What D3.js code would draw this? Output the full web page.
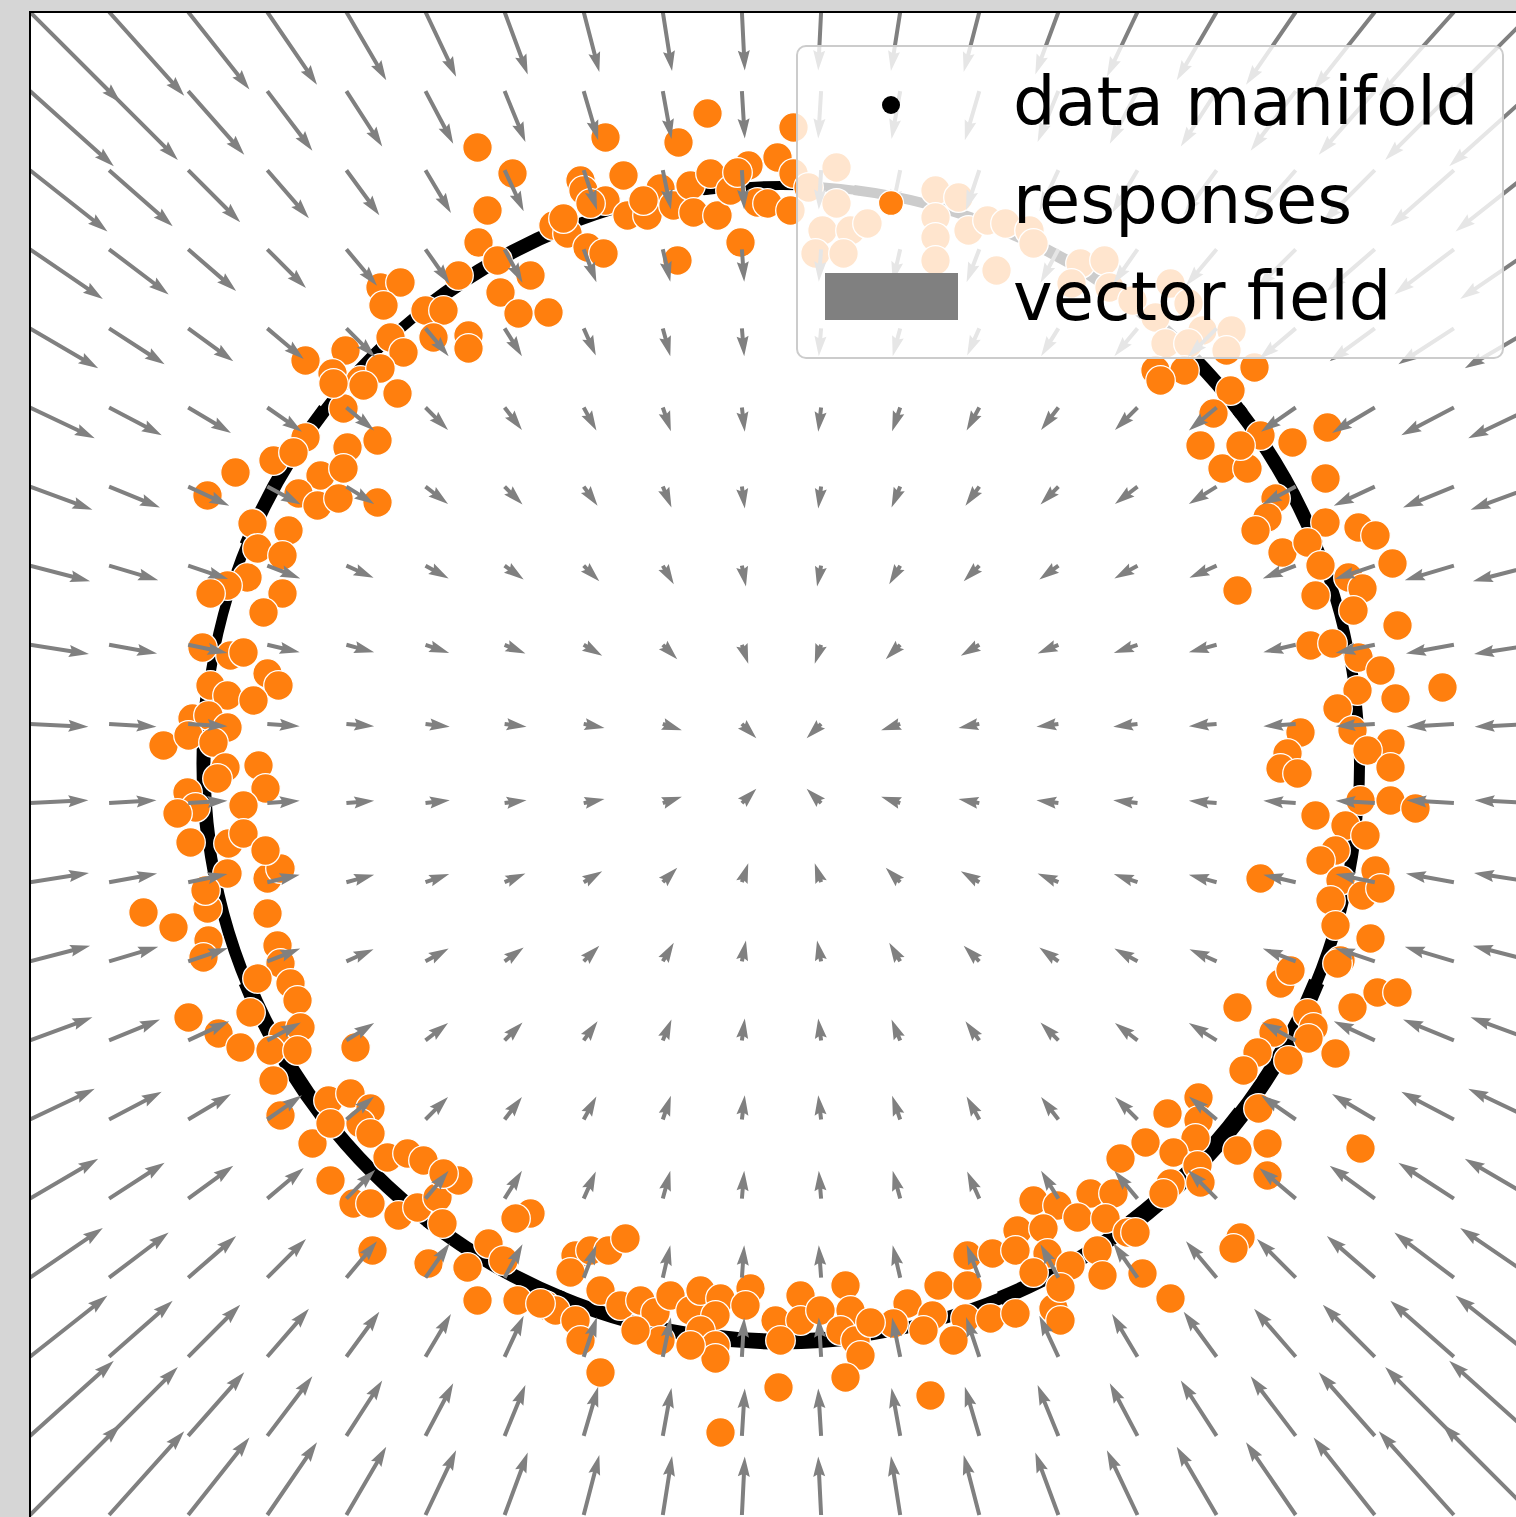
<!DOCTYPE html>
<html lang="en">
<head>
<meta charset="utf-8">
<title>Responses around the data manifold</title>
<script src="https://d3js.org/d3.v7.min.js"></script>
<style>
  body { margin: 0; background: #d6d6d6; }
  svg { display: block; }
</style>
</head>
<body>
<div id="viz"></div>
<script>

// ---- data (units: offset from the circle centre, y up) ----

// data manifold: ring radius and band thickness around it
var manifoldRadius = 578;
var manifoldAngles = [0, 15, 30, 45, 60, 75, 90, 105, 120, 135, 150, 165, 180, 195, 210, 225, 240, 255, 270, 285, 300, 315, 330, 345];
var manifoldWidths = [11, 11, 14, 14, 12, 10, 9, 8, 14, 10, 14, 10, 14, 12, 16, 14, 14, 14, 16, 12, 15, 18, 16, 12];

// responses (orange points)
var responses = [
  // top arc
  [-304,616],[-176,626],[-103,621],[-74,650],[12,636],[-269,590],[-294,553],[-303,521],[-323,488],[-284,503],
  [-251,488],[-281,471],[-263,450],[-233,451],[-401,476],[-381,481],[-398,458],[-356,453],[-338,453],[-391,426],
  [-348,426],[-313,428],[-313,415],[-378,411],[-436,413],[-476,403],[-449,390],[-421,383],[-401,395],[-384,370],
  [-438,355],[-228,538],[-214,530],[-201,583],[-198,573],[-176,563],[-158,588],[-154,548],[-134,548],[-121,575],
  [-108,558],[-91,578],[-88,551],[-71,590],[-64,548],[-51,573],[-33,598],[-24,561],[-4,606],[-14,560],
  [9,553],[12,590],[-41,521],[-104,503],[-194,516],[-178,510],[-218,545],[-191,560],[-138,563],[-44,591],
  // upper right (behind the legend)
  [55,596],[27,576],[55,560],[41,533],[69,533],[34,510],[62,510],[86,540],[154,573],[154,546],
  [177,566],[187,533],[154,526],[154,503],[206,543],[224,540],[248,533],[215,493],[252,520],[299,500],
  [323,503],[290,480],[328,476],[351,463],[389,480],[407,460],[374,446],[421,433],[450,433],[384,420],
  [407,420],[445,413],[374,393],[403,393],[473,396],
  // right arc
  [379,383],[449,373],[432,350],[419,318],[479,328],[511,321],[546,336],[441,295],[466,295],[459,318],
  [494,265],[544,285],[486,246],[474,233],[501,211],[544,241],[526,221],[539,198],[577,236],[594,228],
  [611,200],[567,186],[581,175],[534,168],[572,153],[456,173],[616,138],[529,118],[551,120],[577,106],
  [599,93],[661,76],[576,73],[556,55],[614,65],[519,31],[506,10],[571,33],[609,20],[586,13],
  [609,-4],[499,-5],[516,-10],[579,-37],[609,-37],[634,-45],[534,-52],[564,-62],[584,-72],[554,-87],
  [539,-97],[594,-107],[559,-117],[479,-115],[549,-137],[581,-132],[599,-125],[554,-162],[589,-175],[559,-197],
  // lower right
  [456,-244],[499,-220],[509,-207],[556,-200],[571,-244],[596,-229],[616,-229],[526,-250],[532,-264],[492,-269],
  [476,-289],[507,-297],[527,-275],[554,-290],[462,-307],[477,-345],[417,-334],[386,-350],[417,-357],[364,-379],
  [414,-375],[339,-395],[392,-389],[416,-402],[456,-387],[486,-380],[486,-412],[579,-385],[389,-420],[419,-419],
  [382,-430],[252,-437],[276,-442],[309,-430],[332,-430],[296,-454],[324,-455],[346,-469],[354,-469],[236,-467],
  [262,-465],[186,-492],[211,-490],[234,-487],[266,-490],[289,-502],[316,-487],[252,-509],[321,-512],[361,-510],
  [389,-535],[459,-474],[452,-485],[157,-522],[186,-522],[126,-540],[151,-552],[184,-555],[209,-555],[234,-550],
  [272,-545],[279,-557],[142,-567],[172,-577],[279,-524],[112,-560],
  // bottom arc
  [-206,-492],[-191,-487],[-173,-487],[-156,-475],[-211,-509],[-236,-542],[-226,-547],[-206,-557],[-201,-577],[-181,-609],
  [-181,-527],[-161,-542],[-141,-537],[-126,-549],[-111,-532],[-91,-547],[-81,-527],[-61,-535],[-66,-552],[-81,-567],
  [-66,-582],[-66,-595],[-91,-582],[-121,-577],[-31,-525],[-36,-542],[-6,-557],[19,-532],[19,-557],[-1,-577],
  [39,-547],[64,-522],[69,-547],[59,-567],[74,-577],[79,-592],[89,-559],[64,-614],[-3,-624],[-61,-669],
  [149,-632],[-146,-567],
  // lower left
  [-554,-110],[-514,-115],[-501,-105],[-638,-149],[-608,-164],[-574,-145],[-576,-127],[-573,-177],[-578,-194],[-514,-150],
  [-504,-182],[-501,-200],[-524,-215],[-491,-220],[-484,-237],[-531,-249],[-593,-254],[-563,-270],[-541,-284],[-498,-272],
  [-481,-264],[-511,-287],[-484,-287],[-508,-317],[-426,-284],[-501,-352],[-453,-337],[-431,-330],[-411,-345],[-469,-380],
  [-451,-360],[-421,-360],[-411,-370],[-394,-394],[-374,-390],[-358,-397],[-451,-417],[-428,-440],[-411,-440],[-383,-452],
  [-364,-444],[-344,-434],[-323,-417],[-338,-410],[-339,-460],[-409,-487],[-353,-500],[-314,-504],[-293,-480],[-278,-497],
  [-251,-450],[-266,-455],[-304,-537],[-264,-537],[-241,-540],
  // left arc
  [-448,380],[-418,378],[-476,326],[-404,323],[-508,303],[-434,316],[-546,291],[-488,311],[-461,288],[-438,295],
  [-574,268],[-483,270],[-464,258],[-443,265],[-404,261],[-529,240],[-493,233],[-524,215],[-499,208],[-534,186],
  [-554,178],[-571,170],[-499,170],[-518,151],[-579,116],[-551,108],[-538,111],[-514,90],[-503,78],[-571,78],
  [-554,68],[-528,63],[-589,45],[-573,48],[-554,36],[-618,18],[-593,28],[-568,21],[-556,-4],[-523,-2],
  [-564,-15],[-516,-25],[-594,-29],[-586,-44],[-604,-50],[-538,-42],[-591,-79],[-553,-80],[-538,-70],[-516,-87]
];

// vector field: grid positions and components (rows top to bottom)
var gridX = [-751.5, -672.4, -593.3, -514.2, -435.1, -356.0, -276.9, -197.8, -118.7, -39.6,
              39.6, 118.7, 197.8, 276.9, 356.0, 435.1, 514.2, 593.3, 672.4, 751.5];
var gridY = [751.5, 672.4, 593.3, 514.2, 435.1, 356.0, 276.9, 197.8, 118.7, 39.6,
             -39.6, -118.7, -197.8, -276.9, -356.0, -435.1, -514.2, -593.3, -672.4, -751.5];
var quiverScale = 0.578;

var fieldU = [
  [157,130,106,86,69,53,40,27,16,5,-5,-16,-27,-40,-53,-69,-86,-106,-130,-157],
  [145,119,97,78,62,48,36,25,15,5,-5,-15,-25,-36,-48,-62,-78,-97,-119,-145],
  [134,110,90,72,57,44,33,23,14,4,-4,-14,-23,-33,-44,-57,-72,-90,-110,-134],
  [126,103,83,67,53,42,31,22,13,4,-4,-13,-22,-31,-42,-53,-67,-83,-103,-126],
  [118,96,78,63,50,40,30,21,13,4,-4,-13,-21,-30,-40,-50,-63,-78,-96,-118],
  [112,91,74,60,48,39,30,22,14,5,-5,-14,-22,-30,-39,-48,-60,-74,-91,-112],
  [108,88,71,58,48,39,31,24,15,5,-5,-15,-24,-31,-39,-48,-58,-71,-88,-108],
  [104,85,69,57,47,40,33,27,19,7,-7,-19,-27,-33,-40,-47,-57,-69,-85,-104],
  [102,83,68,56,48,41,36,32,25,11,-11,-25,-32,-36,-41,-48,-56,-68,-83,-102],
  [101,82,68,56,48,42,38,36,33,25,-25,-33,-36,-38,-42,-48,-56,-68,-82,-101],
  [101,82,68,56,48,42,38,36,33,25,-25,-33,-36,-38,-42,-48,-56,-68,-82,-101],
  [102,83,68,56,48,41,36,32,25,11,-11,-25,-32,-36,-41,-48,-56,-68,-83,-102],
  [104,85,69,57,47,40,33,27,19,7,-7,-19,-27,-33,-40,-47,-57,-69,-85,-104],
  [108,88,71,58,48,39,31,24,15,5,-5,-15,-24,-31,-39,-48,-58,-71,-88,-108],
  [112,91,74,60,48,39,30,22,14,5,-5,-14,-22,-30,-39,-48,-60,-74,-91,-112],
  [118,96,78,63,50,40,30,21,13,4,-4,-13,-21,-30,-40,-50,-63,-78,-96,-118],
  [126,103,83,67,53,42,31,22,13,4,-4,-13,-22,-31,-42,-53,-67,-83,-103,-126],
  [134,110,90,72,57,44,33,23,14,4,-4,-14,-23,-33,-44,-57,-72,-90,-110,-134],
  [145,119,97,78,62,48,36,25,15,5,-5,-15,-25,-36,-48,-62,-78,-97,-119,-145],
  [157,130,106,86,69,53,40,27,16,5,-5,-16,-27,-40,-53,-69,-86,-106,-130,-157]
];

var fieldV = [
  [-157,-145,-134,-126,-118,-112,-108,-104,-102,-101,-101,-102,-104,-108,-112,-118,-126,-134,-145,-157],
  [-130,-119,-110,-103,-96,-91,-88,-85,-83,-82,-82,-83,-85,-88,-91,-96,-103,-110,-119,-130],
  [-106,-97,-90,-83,-78,-74,-71,-69,-68,-68,-68,-68,-69,-71,-74,-78,-83,-90,-97,-106],
  [-86,-78,-72,-67,-63,-60,-58,-57,-56,-56,-56,-56,-57,-58,-60,-63,-67,-72,-78,-86],
  [-69,-62,-57,-53,-50,-48,-48,-47,-48,-48,-48,-48,-47,-48,-48,-50,-53,-57,-62,-69],
  [-53,-48,-44,-42,-40,-39,-39,-40,-41,-42,-42,-41,-40,-39,-39,-40,-42,-44,-48,-53],
  [-40,-36,-33,-31,-30,-30,-31,-33,-36,-38,-38,-36,-33,-31,-30,-30,-31,-33,-36,-40],
  [-27,-25,-23,-22,-21,-22,-24,-27,-32,-36,-36,-32,-27,-24,-22,-21,-22,-23,-25,-27],
  [-16,-15,-14,-13,-13,-14,-15,-19,-25,-33,-33,-25,-19,-15,-14,-13,-13,-14,-15,-16],
  [-5,-5,-4,-4,-4,-5,-5,-7,-11,-25,-25,-11,-7,-5,-5,-4,-4,-4,-5,-5],
  [5,5,4,4,4,5,5,7,11,25,25,11,7,5,5,4,4,4,5,5],
  [16,15,14,13,13,14,15,19,25,33,33,25,19,15,14,13,13,14,15,16],
  [27,25,23,22,21,22,24,27,32,36,36,32,27,24,22,21,22,23,25,27],
  [40,36,33,31,30,30,31,33,36,38,38,36,33,31,30,30,31,33,36,40],
  [53,48,44,42,40,39,39,40,41,42,42,41,40,39,39,40,42,44,48,53],
  [69,62,57,53,50,48,48,47,48,48,48,48,47,48,48,50,53,57,62,69],
  [86,78,72,67,63,60,58,57,56,56,56,56,57,58,60,63,67,72,78,86],
  [106,97,90,83,78,74,71,69,68,68,68,68,69,71,74,78,83,90,97,106],
  [130,119,110,103,96,91,88,85,83,82,82,83,85,88,91,96,103,110,119,130],
  [157,145,134,126,118,112,108,104,102,101,101,102,104,108,112,118,126,134,145,157]
];

var legendLabels = ["data manifold", "responses", "vector field"];

// ---- layout ----
var W = 1516, H = 1517;
var axLeft = 30, axTop = 12, axSize = 1503;

var svg = d3.select("#viz")
  .append("svg")
  .attr("width", W)
  .attr("height", H);

var xScale = d3.scaleLinear().domain([-751.5, 751.5]).range([axLeft, axLeft + axSize]);
var yScale = d3.scaleLinear().domain([-751.5, 751.5]).range([axTop + axSize, axTop]);

// the figure is cropped: the axes run off the right and bottom edges
svg.append("defs").append("clipPath")
  .attr("id", "axclip")
  .append("rect")
  .attr("x", axLeft).attr("y", axTop)
  .attr("width", W - axLeft).attr("height", H - axTop);

svg.append("rect")
  .attr("x", axLeft).attr("y", axTop)
  .attr("width", W - axLeft).attr("height", H - axTop)
  .attr("fill", "white");

var plot = svg.append("g").attr("clip-path", "url(#axclip)");

// data manifold ring, one arc per angle sample
var arc = d3.arc();
var cx = xScale(0), cy = yScale(0);
var pxR = xScale(manifoldRadius) - xScale(0);
var toRad = Math.PI / 180;

plot.append("g")
  .attr("transform", "translate(" + cx + "," + cy + ")")
  .selectAll("path")
  .data(manifoldAngles)
  .join("path")
  .attr("fill", "black")
  .attr("d", function(a, i) {
    var w = manifoldWidths[i];
    return arc({
      innerRadius: pxR - w / 2,
      outerRadius: pxR + w / 2,
      startAngle: (90 - a - 7.8) * toRad,
      endAngle: (90 - a + 7.8) * toRad
    });
  });

// responses
plot.append("g")
  .selectAll("circle")
  .data(responses)
  .join("circle")
  .attr("cx", function(d) { return xScale(d[0]); })
  .attr("cy", function(d) { return yScale(d[1]); })
  .attr("r", 14.8)
  .attr("fill", "#ff7f0e")
  .attr("stroke", "white")
  .attr("stroke-width", 1.3);

// quiver arrows, matplotlib style (pivot at tail)
var shaftW = 4, headL = 5 * shaftW, headAL = 4.5 * shaftW, headW = 3 * shaftW;

function arrowPath(x0, y0, x1, y1) {
  var dx = x1 - x0, dy = y1 - y0;
  var L = Math.sqrt(dx * dx + dy * dy);
  var pts;
  if (L >= headL) {
    pts = [[0, -shaftW / 2], [L - headAL, -shaftW / 2], [L - headL, -headW / 2], [L, 0],
           [L - headL, headW / 2], [L - headAL, shaftW / 2], [0, shaftW / 2]];
  } else {
    // short arrows shrink to a scaled head, as matplotlib does
    var s = L / headL;
    pts = [[0, -shaftW / 2 * s], [(headL - headAL) * s, -shaftW / 2 * s], [0, -headW / 2 * s], [L, 0],
           [0, headW / 2 * s], [(headL - headAL) * s, shaftW / 2 * s], [0, shaftW / 2 * s]];
  }
  var c = dx / L, sn = dy / L;
  return "M" + pts.map(function(p) {
    return (x0 + p[0] * c - p[1] * sn).toFixed(2) + "," + (y0 + p[0] * sn + p[1] * c).toFixed(2);
  }).join("L") + "Z";
}

var arrows = [];
gridY.forEach(function(gy, r) {
  gridX.forEach(function(gx, c) {
    arrows.push({ gx: gx, gy: gy, u: fieldU[r][c], v: fieldV[r][c] });
  });
});

plot.append("g")
  .selectAll("path")
  .data(arrows)
  .join("path")
  .attr("fill", "#808080")
  .attr("d", function(d) {
    return arrowPath(xScale(d.gx), yScale(d.gy),
                     xScale(d.gx + d.u * quiverScale), yScale(d.gy + d.v * quiverScale));
  });

// axes frame (left and top spines are the only ones in view)
svg.append("line")
  .attr("x1", axLeft).attr("x2", axLeft)
  .attr("y1", axTop - 1).attr("y2", H)
  .attr("stroke", "black").attr("stroke-width", 2);

svg.append("line")
  .attr("x1", axLeft - 1).attr("x2", W)
  .attr("y1", axTop).attr("y2", axTop)
  .attr("stroke", "black").attr("stroke-width", 2);

// legend
var legend = svg.append("g");

legend.append("rect")
  .attr("x", 797).attr("y", 46)
  .attr("width", 706).attr("height", 312)
  .attr("rx", 9).attr("ry", 9)
  .attr("fill", "white")
  .attr("fill-opacity", 0.8)
  .attr("stroke", "#cccccc")
  .attr("stroke-width", 2);

legend.append("circle")
  .attr("cx", 891).attr("cy", 105).attr("r", 9)
  .attr("fill", "black");

legend.append("circle")
  .attr("cx", 891).attr("cy", 203).attr("r", 12.5)
  .attr("fill", "#ff7f0e")
  .attr("stroke", "white")
  .attr("stroke-width", 1.3);

legend.append("rect")
  .attr("x", 825).attr("y", 273)
  .attr("width", 133).attr("height", 47)
  .attr("fill", "#808080");

legend.selectAll("text")
  .data(legendLabels)
  .join("text")
  .attr("x", 1013)
  .attr("y", function(d, i) { return 125 + i * 97.5; })
  .attr("font-family", "DejaVu Sans")
  .attr("font-size", 67)
  .attr("fill", "black")
  .text(function(d) { return d; });

</script>
</body>
</html>
